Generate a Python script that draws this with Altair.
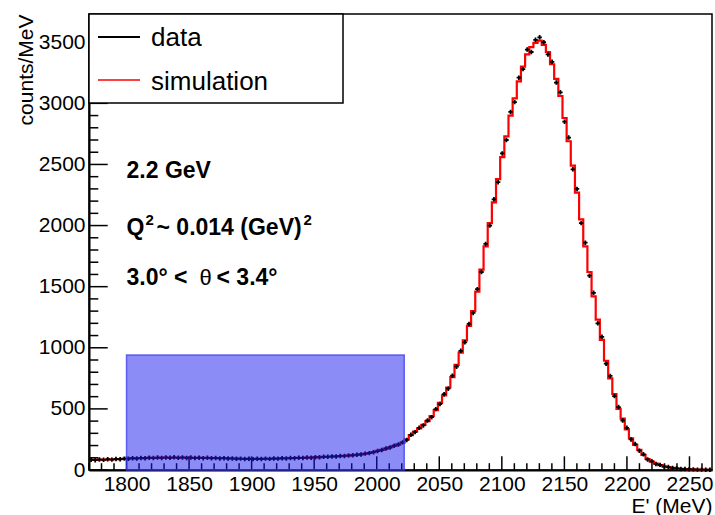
import altair as alt
import pandas as pd

FONT = "Liberation Sans"
X_MIN, X_MAX = 1770, 2268
Y_MAX = 3731
N_BINS = 150
W, H = 623, 456

# simulation histogram (counts/MeV), 150 bins from X_MIN to X_MAX
sim = [
    82, 83, 84, 85, 86, 87, 88, 90, 92, 94,
    95, 96, 97, 98, 99, 100, 100, 101, 101, 102,
    102, 102, 101, 101, 100, 100, 100, 99, 99, 98,
    98, 97, 96, 95, 94, 93, 92, 92, 91, 91,
    91, 91, 92, 92, 93, 94, 95, 96, 97, 98,
    99, 100, 101, 102, 104, 105, 107, 109, 110, 112,
    114, 116, 118, 121, 124, 128, 133, 139, 147, 156,
    165, 175, 186, 198, 210, 224, 250, 285, 315, 340,
    370, 400, 440, 490, 550, 610, 675, 760, 860, 960,
    1060, 1180, 1300, 1460, 1640, 1830, 2020, 2190, 2380, 2560,
    2730, 2900, 3040, 3180, 3300, 3400, 3460, 3495, 3513, 3478,
    3420, 3320, 3200, 3060, 2880, 2690, 2490, 2270, 2050, 1830,
    1620, 1420, 1230, 1064, 894, 750, 622, 500, 420, 333,
    259, 205, 164, 123, 90, 68, 52, 40, 30, 23,
    17, 13, 10, 8, 6, 5, 4, 3, 2, 2,
]

# measured data (counts/MeV), same binning
data_counts = [
    84, 80, 86, 83, 88, 85, 90, 88, 93, 92,
    97, 94, 99, 96, 101, 98, 102, 99, 103, 100,
    104, 100, 103, 99, 102, 98, 101, 97, 100, 96,
    99, 95, 97, 94, 95, 92, 93, 90, 92, 89,
    92, 90, 93, 91, 94, 93, 96, 95, 98, 97,
    100, 99, 102, 101, 105, 104, 108, 108, 111, 111,
    115, 115, 119, 120, 125, 127, 134, 138, 146, 155,
    163, 176, 184, 199, 208, 226, 246, 288, 310, 345,
    365, 405, 432, 498, 540, 620, 665, 772, 845, 975,
    1045, 1195, 1285, 1480, 1620, 1850, 2000, 2215, 2355, 2590,
    2700, 2930, 3010, 3210, 3280, 3440, 3420, 3520, 3540, 3500,
    3400, 3340, 3170, 3090, 2850, 2720, 2460, 2300, 2020, 1860,
    1590, 1450, 1200, 1090, 870, 770, 605, 515, 405, 345,
    250, 212, 158, 128, 86, 71, 50, 42, 28, 24,
    16, 14, 9, 8, 6, 5, 3, 3, 2, 2,
]

x_major = [1800, 1850, 1900, 1950, 2000, 2050, 2100, 2150, 2200, 2250]
x_minor = [v for v in range(1770, 2268, 10) if v not in x_major]
y_major = [0, 500, 1000, 1500, 2000, 2500, 3000, 3500]
y_minor = [v for v in range(0, 3731, 100) if v not in y_major]

box_x = [1800, 2022]
box_y = [0, 940]

ANN_X = 1800
ANN_Y = [2390, 1923, 1514]

bin_w = (X_MAX - X_MIN) / N_BINS
edges = [X_MIN + bin_w * i for i in range(N_BINS + 1)]
centers = [X_MIN + bin_w * (i + 0.5) for i in range(N_BINS)]

step_df = pd.DataFrame({"x": edges, "y": sim + [sim[-1]]})
pts_df = pd.DataFrame({"x": centers, "y": data_counts})
box_df = pd.DataFrame({"x": [box_x[0]], "x2": [box_x[1]], "y": [box_y[0]], "y2": [box_y[1]]})
one = pd.DataFrame({"k": [0]})

xscale = alt.Scale(domain=[X_MIN, X_MAX], nice=False, zero=False)
yscale = alt.Scale(domain=[0, Y_MAX], nice=False, zero=True)

xaxis = alt.Axis(values=x_major, format="d", ticks=False, grid=False,
                 domainColor="black", domainWidth=2,
                 labelFont=FONT, labelFontSize=21, labelColor="black",
                 labelPadding=3, labelFlush=False, labelOverlap=False,
                 title="E' (MeV)", titleFont=FONT, titleFontSize=21,
                 titleFontWeight="normal", titleColor="black",
                 titleAlign="right", titleAnchor="end", titleX=W, titleY=42,
                 titleBaseline="alphabetic")
yaxis = alt.Axis(values=y_major, format="d", ticks=False, grid=False,
                 domainColor="black", domainWidth=2,
                 labelFont=FONT, labelFontSize=21, labelColor="black",
                 labelPadding=4, labelFlush=False, labelOverlap=False,
                 title="counts/MeV", titleFont=FONT, titleFontSize=21,
                 titleFontWeight="normal", titleColor="black",
                 titleAngle=270, titleAlign="right", titleAnchor="end",
                 titleX=-57, titleY=0, titleBaseline="alphabetic")


def X(f):
    return alt.X(f, type="quantitative", scale=xscale, axis=xaxis)


def Y(f):
    return alt.Y(f, type="quantitative", scale=yscale, axis=yaxis)


xmaj = alt.Chart(pd.DataFrame({"x": x_major})).mark_rule(color="black", strokeWidth=1.5).encode(
    x=X("x"), y=alt.value(H), y2=alt.value(H - 13.7))
xmin = alt.Chart(pd.DataFrame({"x": x_minor})).mark_rule(color="black", strokeWidth=1.5).encode(
    x=X("x"), y=alt.value(H), y2=alt.value(H - 6.8))
ymaj = alt.Chart(pd.DataFrame({"y": y_major})).mark_rule(color="black", strokeWidth=1.5).encode(
    y=Y("y"), x=alt.value(0), x2=alt.value(18.7))
ymin = alt.Chart(pd.DataFrame({"y": y_minor})).mark_rule(color="black", strokeWidth=1.5).encode(
    y=Y("y"), x=alt.value(0), x2=alt.value(9.3))

line = alt.Chart(step_df).mark_line(interpolate="step-after", color="#ff0000", strokeWidth=2.2).encode(
    x=X("x"), y=Y("y"))
pts = alt.Chart(pts_df).mark_point(shape="cross", filled=True, size=20, color="black", opacity=1).encode(
    x=X("x"), y=Y("y"))
box = alt.Chart(box_df).mark_rect(fill="#1a1aee", fillOpacity=0.5, stroke="#3c3cf0",
                                  strokeWidth=1.5, strokeOpacity=0.75).encode(
    x=X("x"), x2="x2", y=Y("y"), y2="y2")


def ann_piece(text, yv, dx=0, dy=0, size=23, weight="bold"):
    df = pd.DataFrame({"x": [ANN_X], "y": [yv], "t": [text]})
    return alt.Chart(df).mark_text(font=FONT, fontWeight=weight, fontSize=size, align="left",
                                   baseline="alphabetic", color="black", dx=dx, dy=dy).encode(
        x=X("x"), y=Y("y"), text="t:N")


ann_layers = [
    ann_piece("2.2 GeV", ANN_Y[0]),
    ann_piece("Q", ANN_Y[1]),
    ann_piece("2", ANN_Y[1], dx=19, dy=-10, size=15),
    ann_piece("~ 0.014 (GeV)", ANN_Y[1], dx=30),
    ann_piece("2", ANN_Y[1], dx=177, dy=-10, size=15),
    ann_piece("3.0\u00b0 <", ANN_Y[2]),
    ann_piece("\u03b8", ANN_Y[2], dx=73, size=22, weight="normal"),
    ann_piece("< 3.4\u00b0", ANN_Y[2], dx=90),
]

leg_box = alt.Chart(one).mark_rect(fill="white", stroke="black", strokeWidth=1.5).encode(
    x=alt.value(0), x2=alt.value(254), y=alt.value(0), y2=alt.value(89))
leg_l1 = alt.Chart(one).mark_rule(color="black", strokeWidth=2).encode(
    x=alt.value(9), x2=alt.value(51), y=alt.value(23))
leg_l2 = alt.Chart(one).mark_rule(color="#ff0000", strokeWidth=1.5).encode(
    x=alt.value(9), x2=alt.value(51), y=alt.value(66))
leg_t1 = alt.Chart(one).mark_text(font=FONT, fontSize=26, align="left", baseline="alphabetic",
                                  color="black").encode(
    x=alt.value(62), y=alt.value(32), text=alt.value("data"))
leg_t2 = alt.Chart(one).mark_text(font=FONT, fontSize=26, align="left", baseline="alphabetic",
                                  color="black").encode(
    x=alt.value(62), y=alt.value(76), text=alt.value("simulation"))

chart = alt.layer(
    xmaj, xmin, ymaj, ymin, line, pts, box, *ann_layers,
    leg_box, leg_l1, leg_l2, leg_t1, leg_t2
).properties(
    width=W, height=H,
    padding={"left": 89, "top": 14, "right": 3, "bottom": 45},
    autosize=alt.AutoSizeParams(type="none"),
    background="white",
).configure_view(stroke="black", strokeWidth=1.5)

chart.save("out.html", embed_options={"renderer": "svg", "actions": False})
